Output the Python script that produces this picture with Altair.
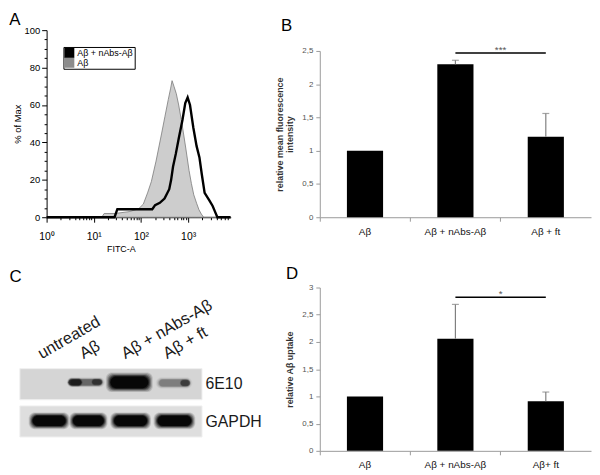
import altair as alt
import pandas as pd

FONT = "Liberation Sans"
AX_GRAY = "#9a9a9a"
ERR_GRAY = "#808080"

# ---------------- Panel A : flow cytometry histogram ----------------
a_series = ["Aβ + nAbs-Aβ", "Aβ"]
a_colors = ["#000000", "#8c8c8c"]
gray_log = [0.0, 1.17, 1.22, 1.45, 1.75, 1.95, 2.05, 2.14, 2.22, 2.32, 2.44, 2.51, 2.58, 2.63,
            2.66, 2.70, 2.75, 2.80, 2.87, 2.95, 3.02, 3.07, 3.12, 3.18, 3.23, 3.28, 3.33, 3.9]
gray_pct = [0, 0, 2, 2, 3, 4.5, 7, 13, 19, 30, 45, 54, 63, 69,
            73, 70, 66, 60, 50, 37, 25, 18, 12, 7.5, 4, 1.7, 0, 0]
black_log = [0.0, 1.44, 1.50, 2.24, 2.30, 2.40, 2.50, 2.60, 2.64, 2.68, 2.74, 2.80, 2.88,
             2.94, 2.99, 3.04, 3.11, 3.18, 3.24, 3.29, 3.35, 3.45, 3.52, 3.57, 3.62, 3.9]
black_pct = [0, 0, 4.3, 4.3, 6.5, 7.7, 10, 15, 20, 27, 34, 42, 52,
             61, 64, 60, 48, 38, 32, 23, 13, 9, 6, 3, 0, 0]
a_x_ticks = [1, 2, 3, 4, 5, 6, 7, 8, 9, 10, 20, 30, 40, 50, 60, 70, 80, 90,
             100, 200, 300, 400, 500, 600, 700, 800, 900, 1000, 2000, 3000, 4000, 5000, 6000, 7000]
a_y_ticks = list(range(0, 101, 5))

# ---------------- Panel B : relative mean fluorescence ----------------
b_cats = ["Aβ", "Aβ + nAbs-Aβ", "Aβ + ft"]
b_vals = [1.0, 2.30, 1.21]
b_errs = [0.0, 0.06, 0.35]
b_sig = ("Aβ + nAbs-Aβ", "Aβ + ft")
b_sig_y = 2.47
b_sig_label = "***"
b_ticks = [0, 0.5, 1, 1.5, 2, 2.5]

# ---------------- Panel C : western blot ----------------
c_lanes = ["untreated", "Aβ", "Aβ + nAbs-Aβ", "Aβ + ft"]
c_lane_pos = [1, 2, 3, 4]
c_rows = ["6E10", "GAPDH"]
c_row_pos = [0.48, 1.71]
# band centre (lane units), width (lane units), centre / height (blot units), intensity
c_band_row = ["6E10"] * 6 + ["GAPDH"] * 4
c_band_x = [1.88, 1.62, 2.15, 2.92, 3.99, 4.26, 1.0, 1.94, 2.95, 4.0]
c_band_w = [0.88, 0.36, 0.28, 1.08, 0.85, 0.26, 0.94, 0.88, 0.94, 0.96]
c_band_y = [0.44, 0.44, 0.43, 0.44, 0.46, 0.46, 1.68, 1.68, 1.68, 1.68]
c_band_h = [0.30, 0.28, 0.24, 0.58, 0.34, 0.26, 0.50, 0.50, 0.50, 0.50]
c_band_i = [0.3, 0.5, 0.3, 1.0, 0.22, 0.3, 1.0, 1.0, 1.0, 1.0]

# ---------------- Panel D : relative Aβ uptake ----------------
d_cats = ["Aβ", "Aβ + nAbs-Aβ", "Aβ+ ft"]
d_vals = [1.0, 2.06, 0.91]
d_errs = [0.0, 0.63, 0.17]
d_sig = ("Aβ + nAbs-Aβ", "Aβ+ ft")
d_sig_y = 2.82
d_sig_label = "*"
d_ticks = [0, 0.5, 1, 1.5, 2, 2.5, 3]


def letter(txt, offset, dx=0):
    return alt.TitleParams(txt, anchor="start", frame="bounds", fontSize=17,
                           fontWeight="normal", font=FONT, color="black",
                           offset=offset, dx=dx)


# ---------- A ----------
A_W, A_H = 186, 189
df_gray = pd.DataFrame({"fitc": [10 ** v for v in gray_log], "pct": gray_pct, "series": "Aβ"})
df_black = pd.DataFrame({"fitc": [10 ** v for v in black_log], "pct": black_pct,
                         "series": "Aβ + nAbs-Aβ"})

major_test = "datum.value == 1 || datum.value == 10 || datum.value == 100 || datum.value == 1000"
xa = alt.X("fitc:Q",
           scale=alt.Scale(type="log", domain=[1, 8000], nice=False),
           axis=alt.Axis(values=a_x_ticks, tickCount=100,
                         labelExpr="datum.value == 1 ? '10⁰' : datum.value == 10 ? '10¹' : "
                                   "datum.value == 100 ? '10²' : datum.value == 1000 ? '10³' : ''",
                         tickSize={"condition": {"test": major_test, "value": 5}, "value": 2.5},
                         labelOverlap=False, labelFlush=False, labelFontSize=10.5,
                         labelPadding=9, labelColor="black", domainColor="black",
                         tickColor="black", title="FITC-A", titleFontSize=9,
                         titleFontWeight="normal", titleX=75, titlePadding=3))
ya = alt.Y("pct:Q",
           scale=alt.Scale(domain=[0, 100], nice=False),
           axis=alt.Axis(values=a_y_ticks, tickCount=100,
                         labelExpr="datum.value % 20 == 0 ? datum.label : ''",
                         tickSize={"condition": {"test": "datum.value % 20 == 0", "value": 5},
                                   "value": 2.5},
                         labelOverlap=False, labelFontSize=9.5, labelPadding=2,
                         labelColor="black", domainColor="black", tickColor="black",
                         title="% of Max", titleFontSize=9.5, titleFontWeight="normal",
                         titlePadding=2))
col_a = alt.Color("series:N",
                  scale=alt.Scale(domain=a_series, range=a_colors),
                  legend=alt.Legend(title=None, orient="none", legendX=17, legendY=17,
                                    symbolType="square", symbolSize=100, symbolStrokeWidth=0,
                                    labelFontSize=9, labelOffset=3, rowPadding=0,
                                    padding=1, strokeColor="black", fillColor="white",
                                    symbolOffset=0, symbolOpacity=1))
area_a = alt.Chart(df_gray).mark_area(fill="#cdcdcd", stroke="#7a7a7a", strokeWidth=0.8).encode(
    x=xa, y=ya, color=col_a)
line_a = alt.Chart(df_black).mark_line(stroke="black", strokeWidth=2.4).encode(
    x=xa, y=ya, color=col_a)
panel_a = alt.layer(area_a, line_a).properties(width=A_W, height=A_H, title=letter("A", -4, -3))


# ---------- bar panels ----------
B_W = 274


def bar_panel(cats, vals, errs, sig, sig_y, sig_label, ymax, ticks, ytitle, title, height, y_top=None):
    df = pd.DataFrame({"cat": cats, "val": vals, "err": errs})
    df["top"] = df["val"] + df["err"]
    df_err = df[df["err"] > 0]
    xscale = alt.Scale(domain=cats, paddingInner=0, paddingOuter=0)
    if y_top is not None:
        yscale = alt.Scale(domain=[0, ymax], nice=False, range=[height, y_top])
    else:
        yscale = alt.Scale(domain=[0, ymax], nice=False)
    x = alt.X("cat:N", scale=xscale,
              axis=alt.Axis(title=None, labelAngle=0, bandPosition=0, tickSize=4,
                            tickColor=AX_GRAY, domainColor=AX_GRAY, labelFontSize=10,
                            labelPadding=5, labelColor="#111111"))
    y = alt.Y("val:Q", scale=yscale,
              axis=alt.Axis(values=ticks, tickCount=50,
                            labelExpr="replace(format(datum.value, '~g'), '.', ',')",
                            labelOverlap=False,
                            title=ytitle, titleFontSize=9, titleFontWeight="bold",
                            titleColor="#333333", titlePadding=7, labelFontSize=8,
                            labelColor="#555555", labelPadding=3, tickSize=4,
                            tickColor=AX_GRAY, domainColor=AX_GRAY))
    bars = alt.Chart(df).mark_bar(color="black", width=alt.RelativeBandSize(0.4)).encode(x=x, y=y)
    ebar = alt.Chart(df_err).mark_rule(color=ERR_GRAY, strokeWidth=1.2).encode(
        x="cat:N", y="val:Q", y2="top:Q")
    ecap = alt.Chart(df_err).mark_tick(color=ERR_GRAY, thickness=1.2, size=7,
                                       orient="horizontal").encode(x="cat:N", y="top:Q")
    sdf = pd.DataFrame({"c1": [sig[0]], "c2": [sig[1]], "y": [sig_y], "lab": [sig_label]})
    sline = alt.Chart(sdf).mark_rule(color="black", strokeWidth=1.5).encode(
        x="c1:N", x2="c2:N", y="y:Q")
    stxt = alt.Chart(sdf).mark_text(fontSize=10, color="#555555", baseline="middle", dy=-3).encode(
        x=alt.X("c1:N", bandPosition=1), y="y:Q", text="lab:N")
    return alt.layer(bars, ebar, ecap, sline, stxt).properties(width=B_W, height=height, title=title)


panel_b = bar_panel(b_cats, b_vals, b_errs, b_sig, b_sig_y, b_sig_label, 2.5, b_ticks,
                    ["relative mean fluorescence", "intensity"], letter("B", -5, 6), A_H, 21)
panel_d = bar_panel(d_cats, d_vals, d_errs, d_sig, d_sig_y, d_sig_label, 3, d_ticks,
                    "relative Aβ uptake", letter("D", 1), 165)

# ---------- C ----------
C_W, C_H = 157, 69
lane_expr = "[" + ",".join("'" + s + "'" for s in c_lanes) + "][datum.value - 1]"
boxes = pd.DataFrame({"x0": [0.3, 0.3], "x1": [4.66, 4.66], "y0": [0.0, 1.2], "y1": [1.0, 2.2],
                      "fill": ["#d5d5d5", "#dedede"]})
xc = alt.X("x0:Q",
           scale=alt.Scale(domain=[0.3, 4.66], range=[-27, C_W], nice=False, zero=False),
           axis=alt.Axis(orient="top", title=None, values=c_lane_pos, tickCount=20,
                         labelExpr=lane_expr,
                         labelAngle=-30, labelAlign="left", labelBaseline="alphabetic",
                         labelFontSize=16.5, labelPadding=10, labelOffset=-8,
                         labelOverlap=False, labelFlush=False, labelBound=False,
                         domain=False, ticks=False, labelColor="#1a1a1a"))
yc = alt.Y("y0:Q",
           scale=alt.Scale(domain=[0, 2.2], reverse=True, nice=False, zero=False),
           axis=alt.Axis(orient="right", title=None, values=c_row_pos, tickCount=20,
                         labelExpr="datum.value < 1 ? '" + c_rows[0] + "' : '" + c_rows[1] + "'",
                         labelFontSize=16, labelPadding=3, labelOverlap=False,
                         labelFlush=False, domain=False, ticks=False,
                         labelColor="#1a1a1a", labelAngle=0, labelBaseline="middle"))
bg = alt.Chart(boxes).mark_rect(stroke="#efefef", strokeWidth=1).encode(
    x=xc, x2="x1:Q", y=yc, y2="y1:Q", fill=alt.Fill("fill:N", scale=None, legend=None))
layers = [bg]
bands = pd.DataFrame({"row": c_band_row, "xc": c_band_x, "w": c_band_w,
                      "yc": c_band_y, "h": c_band_h, "inten": c_band_i})
for ws, hs, a in [(1.04, 1.08, 0.12), (1.0, 1.0, 0.18), (0.96, 0.9, 0.25), (0.92, 0.82, 0.35),
                  (0.88, 0.74, 0.5), (0.84, 0.66, 0.8)]:
    d = pd.DataFrame({
        "x0": bands["xc"] - bands["w"] * ws / 2, "x1": bands["xc"] + bands["w"] * ws / 2,
        "y0": bands["yc"] - bands["h"] * hs / 2, "y1": bands["yc"] + bands["h"] * hs / 2,
        "op": bands["inten"] * a})
    layers.append(alt.Chart(d).mark_rect(color="black", cornerRadius=6).encode(
        x="x0:Q", x2="x1:Q", y="y0:Q", y2="y1:Q",
        opacity=alt.Opacity("op:Q", scale=None, legend=None)))
panel_c = alt.layer(*layers).properties(width=C_W, height=C_H, title=letter("C", 11, -10))

left = alt.vconcat(panel_a, panel_c, spacing=13)
right = alt.vconcat(panel_b, panel_d, spacing=27)
chart = alt.hconcat(left, right, spacing=12).properties(padding=0).configure(
    font=FONT).configure_view(stroke="transparent").configure_axis(
    grid=False, labelFont=FONT, titleFont=FONT).configure_legend(labelFont=FONT)

chart.save("out.html", embed_options={"renderer": "svg", "actions": False})
